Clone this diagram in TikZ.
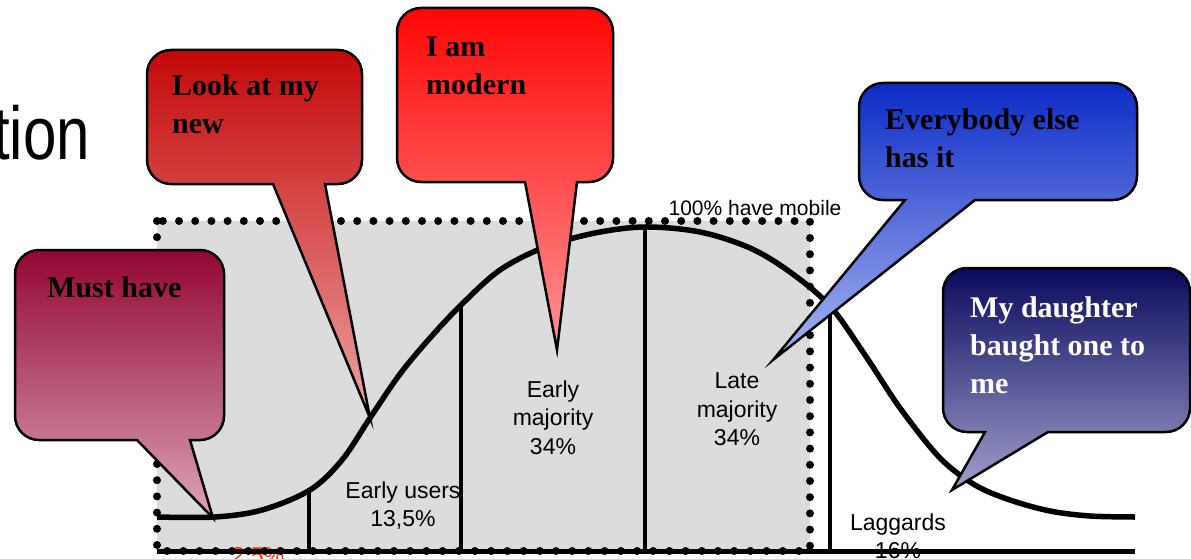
\documentclass[tikz,border=0pt]{standalone}
\usepackage{fontspec}
\setmainfont{Liberation Serif}
\setsansfont{Liberation Sans}
\usetikzlibrary{calc}

\definecolor{panelgray}{HTML}{DCDCDC}
\definecolor{pctred}{HTML}{FF3300}
\definecolor{mustTop}{HTML}{940634}
\definecolor{mustBot}{HTML}{DDA5B5}
\definecolor{lookTop}{HTML}{C40808}
\definecolor{lookBot}{HTML}{EDA3A3}
\definecolor{modernTop}{HTML}{FF0606}
\definecolor{modernBot}{HTML}{FF9494}
\definecolor{everyTop}{HTML}{0C2CC6}
\definecolor{everyBot}{HTML}{A8B6F2}
\definecolor{daughterTop}{HTML}{0A0A5C}
\definecolor{daughterBot}{HTML}{A2A0CC}

\tikzset{
    bubble/.style={draw=black, line width=2.5pt, rounded corners=24pt},
    bubbletext/.style={anchor=north west, inner sep=0pt, align=left,
        font=\bfseries\fontsize{30}{38}\selectfont},
    phase/.style={anchor=north, inner sep=0pt, align=center,
        font=\sffamily\fontsize{23}{28.5}\selectfont},
    divider/.style={line width=4.5pt},
    dotframe/.style={line width=8pt, line cap=round, dash pattern=on 0pt off 16.2pt},
}

\begin{document}
\begin{tikzpicture}[x=1pt, y=-1pt]
    \useasboundingbox (0,0) rectangle (1191,559);
    \clip (0,0) rectangle (1191,559);

    % Shaded area
    \fill[panelgray] (157,221) rectangle (810,551);

    % Title (cut off)
    \node[anchor=base east, inner sep=0pt, xscale=0.8,
        font=\sffamily\fontsize{75}{80}\selectfont] (title) at (90,160) {tion};

    % Phase labels
    \node[phase, text=pctred] (innovators) at (258,547) {2,5\%};
    \node[phase] (earlyusers) at (403,481.5) {Early users\\13,5\%};
    \node[phase] (earlymaj) at (553,380.5) {Early\\majority\\34\%};
    \node[phase] (latemaj) at (737,372.5) {Late\\majority\\34\%};
    \node[phase] (laggards) at (898,513.5) {Laggards\\16\%};

    % Dividers
    \draw[divider] (309,551) -- (309,488);
    \draw[divider] (461,551) -- (461,303);
    \draw[divider] (645,551) -- (645,226);
    \draw[divider] (830,551) -- (830,304);

    % Adoption curve
    \draw[line width=5.5pt] plot[smooth, tension=0.55] coordinates {
        (157,517) (215,517) (262,510) (310,490) (342,460) (370,418)
        (400,374) (430,338) (461,305) (500,270) (545,247) (595,233)
        (645,227) (700,232) (750,248) (790,272) (830,306) (865,355)
        (900,408) (940,458) (975,485) (1010,500) (1050,511) (1090,516)
        (1135,517)};

    % Dotted frame and base line
    \draw[dotframe] (157,221) rectangle (810,551);
    \draw[line width=5pt] (157,551) -- (1135,551);
    \node[anchor=north, inner sep=0pt, font=\sffamily\fontsize{21}{25}\selectfont]
        (fullmarket) at (755,200) {100\% have mobile};

    % Bubble: must have
    \draw[bubble, top color=mustTop, bottom color=mustBot]
        (15,345) -- (15,250) -- (224,250) -- (224,440)
        [sharp corners] -- (190,440) -- (213,518) -- (137,440)
        [rounded corners=24pt] -- (15,440) -- cycle;
    \node[bubbletext] (must) at (47,276.5) {Must have};

    % Bubble: look at my new
    \draw[bubble, top color=lookTop, bottom color=lookBot]
        (147,117) -- (147,50) -- (362,50) -- (362,184)
        [sharp corners] -- (325,184) -- (370,418) -- (273,184)
        [rounded corners=24pt] -- (147,184) -- cycle;
    \node[bubbletext] (look) at (172,74.5) {Look at my\\new};

    % Bubble: I am modern
    \draw[bubble, top color=modernTop, bottom color=modernBot]
        (397,95) -- (397,8) -- (613,8) -- (613,182)
        [sharp corners] -- (577,182) -- (557,350) -- (525,182)
        [rounded corners=24pt] -- (397,182) -- cycle;
    \node[bubbletext] (modern) at (426,37) {I am\\modern};

    % Bubble: everybody else
    \draw[bubble, top color=everyTop, bottom color=everyBot]
        (859,140) -- (859,83) -- (1137,83) -- (1137,200)
        [sharp corners] -- (975,200) -- (773,360) -- (905,200)
        [rounded corners=24pt] -- (859,200) -- cycle;
    \node[bubbletext] (everybody) at (885,108.5) {Everybody else\\has it};

    % Bubble: my daughter
    \draw[bubble, top color=daughterTop, bottom color=daughterBot]
        (943,350) -- (943,268) -- (1190,268) -- (1190,432)
        [sharp corners] -- (1048,432) -- (952,490) -- (985,432)
        [rounded corners=24pt] -- (943,432) -- cycle;
    \node[bubbletext, text=white] (daughter) at (970,296.5) {My daughter\\baught one to\\me};
\end{tikzpicture}
\end{document}
